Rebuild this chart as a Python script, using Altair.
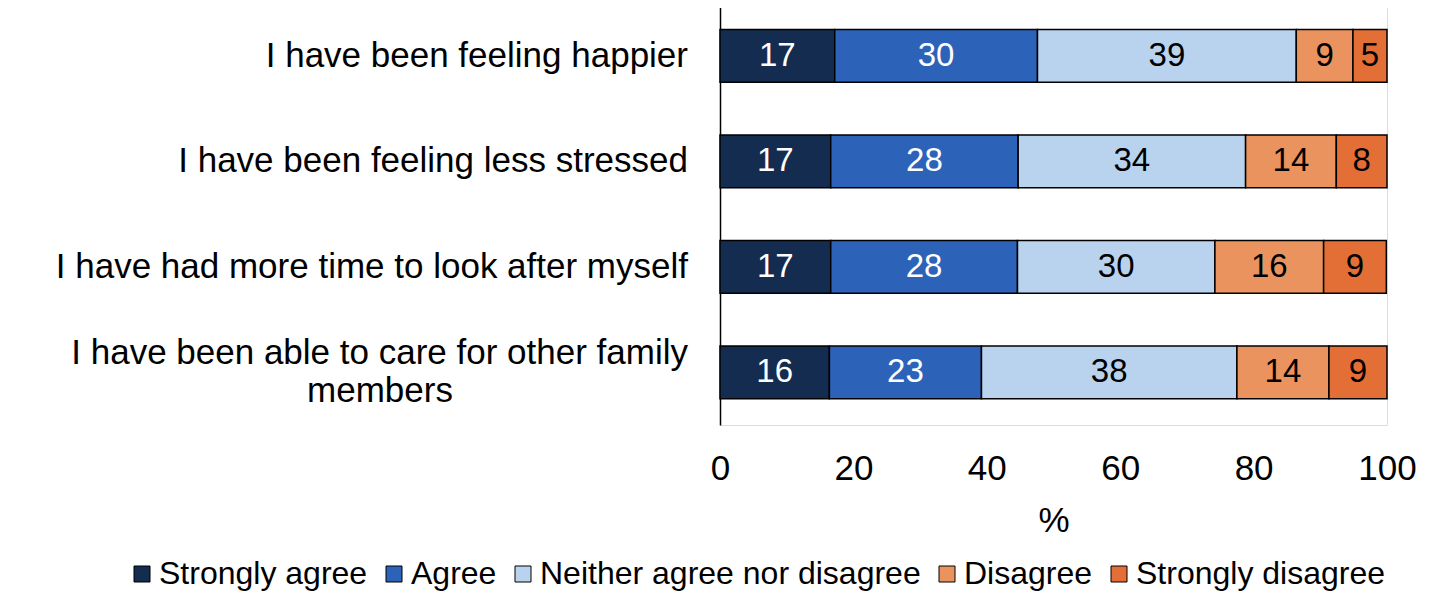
import altair as alt
import pandas as pd

questions = [
    "I have been feeling happier",
    "I have been feeling less stressed",
    "I have had more time to look after myself",
    "I have been able to care for other family members",
]
question_lines = [
    ["I have been feeling happier"],
    ["I have been feeling less stressed"],
    ["I have had more time to look after myself"],
    ["I have been able to care for other family", "members"],
]
categories = ["Strongly agree", "Agree", "Neither agree nor disagree", "Disagree", "Strongly disagree"]
colors = ["#132C4F", "#2C63B8", "#B9D3EE", "#EA935F", "#E36F36"]

happier = [17.2, 30.4, 38.8, 8.5, 5.1]
less_stressed = [16.6, 28.1, 34.1, 13.6, 7.6]
more_time = [16.6, 28.0, 29.6, 16.3, 9.4]
care_family = [16.4, 22.8, 38.3, 13.8, 8.7]
series = [happier, less_stressed, more_time, care_family]

x_ticks = [0, 20, 40, 60, 80, 100]

rows = []
for q, vals in zip(questions, series):
    for i, (c, v) in enumerate(zip(categories, vals)):
        rows.append({"q": q, "cat": c, "order": i, "value": v})
df = pd.DataFrame(rows)

lab_rows = []
for q, lines in zip(questions, question_lines):
    if len(lines) == 1:
        lab_rows.append({"q": q, "text": lines[0], "kind": "single"})
    else:
        lab_rows.append({"q": q, "text": lines[0], "kind": "first"})
        lab_rows.append({"q": q, "text": lines[1], "kind": "second"})
labdf = pd.DataFrame(lab_rows)

FONT = "Liberation Sans"

yscale = alt.Scale(domain=questions, paddingInner=0.5, paddingOuter=0.25)
yaxis = alt.Axis(labels=False, ticks=False, domainColor="black", domainWidth=1.5,
                 title=None, grid=False)
y = alt.Y("q:N", scale=yscale, axis=yaxis)

xaxis = alt.Axis(values=x_ticks, domain=False, ticks=False, grid=False, labelFlush=False,
                 labelFontSize=35, labelFont=FONT, labelColor="black", labelPadding=26,
                 title="%", titleFontSize=35, titleFont=FONT, titleFontWeight="normal",
                 titleColor="black", titlePadding=17)
xscale = alt.Scale(domain=[0, 100], nice=False)

base = alt.Chart(df).transform_stack(
    stack="value", groupby=["q"], as_=["x0", "x1"], sort=[alt.SortField("order")]
).transform_calculate(mid="(datum.x0 + datum.x1) / 2")

bars = base.mark_bar(stroke="black", strokeWidth=1.5).encode(
    x=alt.X("x0:Q", scale=xscale, axis=xaxis, title="%"),
    x2="x1:Q",
    y=y,
    color=alt.Color(
        "cat:N",
        scale=alt.Scale(domain=categories, range=colors),
        legend=alt.Legend(
            title=None, orient="none", legendX=-594, legendY=555,
            direction="horizontal", columns=5, symbolType="square", symbolSize=256,
            symbolStrokeColor="black", symbolStrokeWidth=1, labelFontSize=32,
            labelFont=FONT, labelColor="black", labelOffset=1, columnPadding=10,
            labelLimit=0,
        ),
    ),
)

texts = base.mark_text(fontSize=33, font=FONT).encode(
    x=alt.X("mid:Q", scale=xscale, title="%"),
    y=y,
    text=alt.Text("value:Q", format=".0f"),
    color=alt.condition("datum.order < 2", alt.value("white"), alt.value("black")),
)

lab = alt.Chart(labdf)
lab_single = lab.transform_filter("datum.kind == 'single'").mark_text(
    align="right", fontSize=35, font=FONT, color="black"
).encode(x=alt.value(-32), y=y, text="text:N")
lab_first = lab.transform_filter("datum.kind == 'first'").mark_text(
    align="right", fontSize=35, font=FONT, color="black", dy=-19
).encode(x=alt.value(-32), y=y, text="text:N")
lab_second = lab.transform_filter("datum.kind == 'second'").mark_text(
    align="center", fontSize=35, font=FONT, color="black", dy=19
).encode(x=alt.value(-340), y=y, text="text:N")

chart = alt.layer(bars, texts, lab_single, lab_first, lab_second).properties(
    width=667, height=422,
    padding={"left": 712, "top": -5, "right": 39, "bottom": 177},
    autosize=alt.AutoSizeParams(type="none"),
).configure_view(stroke=None).configure(font=FONT)

chart.save("out.html", embed_options={"renderer": "svg", "actions": False})
